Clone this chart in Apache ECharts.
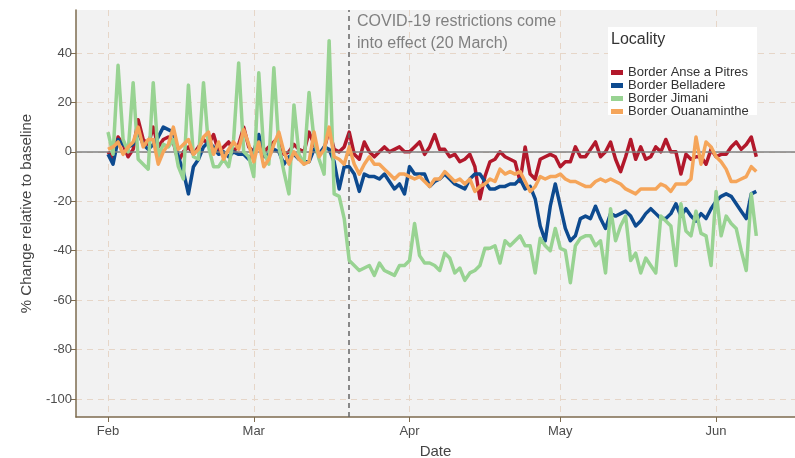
<!DOCTYPE html>
<html>
<head>
<meta charset="utf-8">
<script src="https://cdn.jsdelivr.net/npm/echarts@6/dist/echarts.min.js"></script>
<style>
  html, body { margin: 0; padding: 0; background: #fff; }
  #main { width: 795px; height: 458px; }
</style>
</head>
<body>
<div id="main"></div>
<script>
// daily values, 1 Feb 2020 .. 9 Jun 2020
var ansePitres = [
    0, -3, 6, 3, -2, 1, 13, 5, 3, 10, 2, 5, 6, 4, -4, 0, 2, -1, 2, 5, 3, 7, 0, 2, 4, 0, 3, 10, 2, 0,
    5, 0, 2, 4, 6, -1, 0, 3, 1, 0, 8, 3, -1, 1, 9, 1,
    0, 2, 8, -1, -3, 4, 0, -2, 0, 2, 0, 1, 2, 0, 0, 2, 4, -1, 2, 7,
    1, 1, -2, -1, -4, -3, -1, -6, -19, -10, -4, -3, 0, -2, -3, -4, -12, 2, -9, -11,
    -3, -2, -1, -2, -6, -4, -4, 2, -2, -2, 1, 4, -2, 0, 4, -3, -8, -2, 5, -3,
    2, -3, -2, 2, 0, 5, 0, 0, -9, -1, -3, -2, -2, -5, 1, -2, -1, -1, 2, 4,
    1, 3, 6, -2
];
var belladere = [
    -1, -5, 5, 3, 2, 3, 8, 3, 1, 3, 6, 10, 9, 8, -2, -8, -17, -6, -3, 2, 4, 2, -1, 0, -2, 0, -1, -1, -3, 0,
    7, -2, -1, 1, 0, -5, -2, -1, -3, -4, -4, 1, -1, 2, 1, -4,
    -15, -6, -6, -9, -16, -9, -10, -10, -11, -9, -12, -15, -13, -17, -6, -9, -9, -9, -14, -12,
    -11, -9, -11, -13, -14, -15, -11, -9, -9, -12, -15, -15, -14, -14, -13, -13, -11, -15, -14, -19,
    -30, -36, -22, -13, -22, -31, -36, -34, -27, -26, -27, -22, -27, -31, -25, -26, -25, -24, -26, -30,
    -28, -25, -23, -25, -27, -27, -25, -21, -26, -23, -26, -28, -25, -27, -23, -20, -18, -17, -18, -21,
    -24, -27, -17, -16
];
var jimani = [
    8, -1, 35, 5, 0, 28, -3, -5, -7, 28, -2, 3, 2, 5, -6, -11, 27, -2, -3, 28, 2, -6, -6, -3, -6, 5, 36, 0, -2, -10,
    32, 0, -5, 34, 2, -8, -17, 19, -1, -5, 24, 5, -3, -9, 45, -17,
    -18, -27, -44, -46, -48, -47, -46, -50, -45, -48, -49, -50, -46, -46, -44, -29, -42, -45, -45, -46,
    -48, -41, -43, -49, -47, -52, -49, -48, -46, -39, -39, -38, -45, -36, -38, -36, -34, -38, -38, -49,
    -35, -38, -40, -31, -39, -40, -53, -38, -35, -34, -34, -38, -36, -49, -23, -36, -30, -26, -44, -41,
    -49, -43, -46, -49, -26, -28, -30, -46, -21, -32, -34, -24, -33, -34, -46, -16, -34, -26, -29, -31,
    -40, -48, -17, -34
];
var ouanaminthe = [
    1, 2, 4, -1, 2, 4, 10, 2, 5, 5, -5, 0, 3, 10, 1, 3, 5, -1, 1, 6, 8, -1, 4, -3, 1, 4, 1, 9, 3, -4,
    4, -6, -3, 3, 8, 0, -5, 0, -3, -5, -4, 8, -2, 1, 10, -2,
    -3, -5, 2, -5, -9, -5, -2, -5, -5, -7, -9, -11, -9, -9, -10, -11, -10, -12, -14, -11,
    -11, -8, -10, -12, -11, -13, -11, -16, -14, -13, -11, -12, -7, -9, -8, -9, -8, -12, -16, -14,
    -10, -11, -10, -10, -9, -11, -12, -12, -13, -14, -14, -12, -11, -12, -11, -12, -13, -15, -16, -17,
    -15, -15, -15, -15, -13, -14, -16, -13, -13, -13, -11, 6, -5, 4, 2, -2, -4, -7, -12, -12,
    -11, -10, -6, -8
];
var localities = ['Border Anse a Pitres', 'Border Belladere', 'Border Jimani', 'Border Ouanaminthe'];
var colors = ['#b2182b', '#0d4a8f', '#98d392', '#f5a55a'];
var monthTicks = ['2020-02-01', '2020-03-01', '2020-04-01', '2020-05-01', '2020-06-01'];
var monthNames = ['Jan', 'Feb', 'Mar', 'Apr', 'May', 'Jun', 'Jul'];
var yTicks = [-100, -80, -60, -40, -20, 0, 20, 40];
var restrictionDate = '2020-03-20';

var DAY = 24 * 3600 * 1000;
var start = new Date(2020, 1, 1).getTime();

function toPairs(values) {
    return values.map(function (v, i) {
        return [new Date(2020, 1, 1 + i).getTime(), v];
    });
}
function ts(s) {
    var p = s.split('-');
    return new Date(+p[0], +p[1] - 1, +p[2]).getTime();
}

var myChart = echarts.init(document.getElementById('main'));

var series = [ansePitres, belladere, jimani, ouanaminthe].map(function (vals, k) {
    return {
        name: localities[k],
        type: 'line',
        data: toPairs(vals),
        symbol: 'none',
        color: colors[k],
        lineStyle: { width: 3.5, color: colors[k], join: 'round' },
        z: 3 + k
    };
});
series[0].markLine = {
    silent: true,
    symbol: 'none',
    label: { show: false },
    data: [
        { yAxis: 0, lineStyle: { color: '#808080', width: 1.5, type: 'solid' } },
        { xAxis: ts(restrictionDate), lineStyle: { color: '#666', width: 1.5, type: [5, 4] } }
    ]
};

var option = {
    animation: false,
    grid: {
        left: 76, right: 0, top: 10, bottom: 41,
        containLabel: false, outerBoundsMode: 'none',
        show: true, backgroundColor: '#f2f2f2', borderWidth: 0
    },
    xAxis: {
        type: 'value',
        min: start - 6.37 * DAY,
        max: start + 136.7 * DAY,
        name: 'Date',
        nameLocation: 'middle',
        nameGap: 27,
        nameTextStyle: { fontSize: 15, color: '#444', fontFamily: 'Liberation Sans' },
        axisLine: { show: true, onZero: false, lineStyle: { color: '#7d6b4f', width: 1.5 } },
        axisTick: { show: true, length: 5, lineStyle: { color: '#7d6b4f' }, customValues: monthTicks.map(ts) },
        axisLabel: {
            customValues: monthTicks.map(ts),
            color: '#4d4d4d', fontSize: 13, margin: 8, fontFamily: 'Liberation Sans',
            formatter: function (v) { return monthNames[new Date(v).getMonth()]; }
        },
        splitLine: { show: true, lineStyle: { color: '#e6d6c8', type: [6, 5], width: 1 } }
    },
    yAxis: {
        type: 'value',
        min: -107.3,
        max: 57.4,
        name: '% Change relative to baseline',
        nameLocation: 'middle',
        nameGap: 42,
        nameTextStyle: { fontSize: 15, color: '#444', fontFamily: 'Liberation Sans' },
        axisLine: { show: true, onZero: false, lineStyle: { color: '#7d6b4f', width: 1.5 } },
        axisTick: { show: true, length: 5, lineStyle: { color: '#7d6b4f' }, customValues: yTicks },
        axisLabel: { customValues: yTicks, color: '#4d4d4d', fontSize: 13, margin: 4, fontFamily: 'Liberation Sans' },
        splitLine: { show: true, lineStyle: { color: '#e6d6c8', type: [6, 5], width: 1 } }
    },
    legend: {
        data: localities,
        orient: 'vertical',
        left: 611,
        top: 66,
        padding: 0,
        itemGap: 0,
        itemWidth: 12,
        itemHeight: 5,
        icon: 'rect',
        textStyle: { fontSize: 13, color: '#333', lineHeight: 12, fontFamily: 'Liberation Sans' }
    },
    graphic: [
        {
            type: 'rect', left: 608, top: 27, z: 1,
            shape: { width: 149, height: 88 },
            style: { fill: '#ffffff' }
        },
        {
            type: 'text', left: 611, top: 32, z: 10,
            style: { text: 'Locality', fontSize: 16, fill: '#333', fontFamily: 'Liberation Sans' }
        },
        {
            type: 'text', left: 357, top: 11, z: 10,
            style: {
                text: 'COVID-19 restrictions come\ninto effect (20 March)',
                fontSize: 16, lineHeight: 22, fill: '#808080', fontFamily: 'Liberation Sans'
            }
        }
    ],
    series: series
};

myChart.setOption(option);
</script>
</body>
</html>
